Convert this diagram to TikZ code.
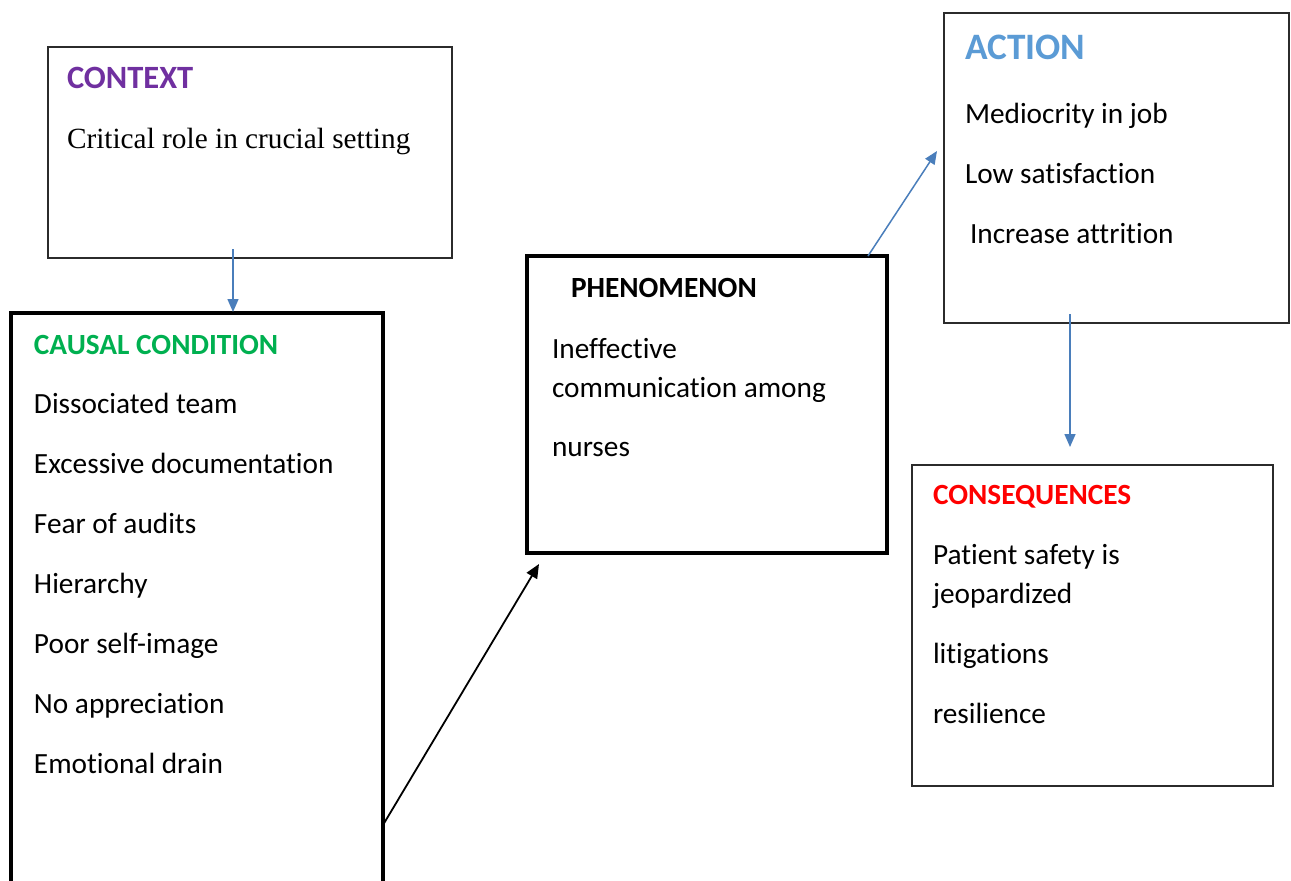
\documentclass[tikz,border=0pt]{standalone}
\usepackage{fontspec}
\setmainfont{Carlito}[Ligatures=NoCommon]
\newfontfamily\timesf{Liberation Serif}
\usetikzlibrary{arrows.meta,calc}
\definecolor{ctxpurple}{HTML}{7030A0}
\definecolor{causgreen}{HTML}{00B050}
\definecolor{actblue}{HTML}{5B9BD5}
\definecolor{arrblue}{HTML}{4A7EBB}
\definecolor{consred}{HTML}{FF0000}
\definecolor{thinbox}{HTML}{2B2B2B}
\tikzset{
  thinframe/.style={draw=thinbox, line width=1.3pt, inner sep=0pt, outer sep=0pt, anchor=north west},
  thickframe/.style={draw=black, line width=4.5pt, inner sep=0pt, outer sep=0pt, anchor=north west},
  txt/.style={anchor=base west, inner sep=0pt, outer sep=0pt, font=\fontsize{29.3}{33}\selectfont},
  hdr/.style={anchor=base west, inner sep=0pt, outer sep=0pt, font=\fontsize{29.3}{33}\selectfont\bfseries},
  bluearrow/.style={draw=arrblue, line width=1.5pt, -{Triangle[length=13pt,width=11pt]}},
  blackarrow/.style={draw=black, line width=1.8pt, -{Triangle[length=14pt,width=12pt]}}
}
\begin{document}
\begin{tikzpicture}[x=1pt,y=-1pt]
\useasboundingbox (0,0) rectangle (1291,881);
\clip (0,0) rectangle (1291,881);
% boxes
\node[thinframe, minimum width=404pt, minimum height=211pt] (context) at (48,47) {};
\node[thickframe, minimum width=372pt, minimum height=700pt] (causal) at (11,313) {};
\node[thickframe, minimum width=360pt, minimum height=297pt] (phen) at (527,256) {};
\node[thinframe, minimum width=345pt, minimum height=310pt] (action) at (944,13) {};
\node[thinframe, minimum width=361pt, minimum height=321pt] (conseq) at (912,465) {};
% context text
\node[hdr, font=\fontsize{32.5}{36}\selectfont\bfseries, text=ctxpurple] (ctxh) at (67,88) {CONTEXT};
\node[txt, font=\fontsize{29.3}{33}\timesf] (ctx1) at (67,148) {Critical role in crucial setting};
% causal text
\node[hdr, text=causgreen] (cauh) at (34,354) {CAUSAL CONDITION};
\node[txt] (cau1) at (34,413) {Dissociated team};
\node[txt] (cau2) at (34,473) {Excessive documentation};
\node[txt] (cau3) at (34,533) {Fear of audits};
\node[txt] (cau4) at (34,593) {Hierarchy};
\node[txt] (cau5) at (34,653) {Poor self-image};
\node[txt] (cau6) at (34,713) {No appreciation};
\node[txt] (cau7) at (34,773) {Emotional drain};
% phenomenon text
\node[hdr] (phh) at (571,297) {PHENOMENON};
\node[txt] (ph1) at (552,358) {Ineffective};
\node[txt] (ph2) at (552,397) {communication among};
\node[txt] (ph3) at (552,456) {nurses};
% action text
\node[hdr, font=\fontsize{37.3}{40}\selectfont\bfseries, text=actblue] (acth) at (965,59) {ACTION};
\node[txt] (act1) at (965,123) {Mediocrity in job};
\node[txt] (act2) at (965,183) {Low satisfaction};
\node[txt] (act3) at (970,243) {Increase attrition};
% consequences text
\node[hdr, text=consred] (conh) at (933,504) {CONSEQUENCES};
\node[txt] (con1) at (933,564) {Patient safety is};
\node[txt] (con2) at (933,603) {jeopardized};
\node[txt] (con3) at (933,663) {litigations};
\node[txt] (con4) at (933,723) {resilience};
% connectors
\draw[bluearrow] ([xshift=-17pt,yshift=9pt]context.south) -- ([xshift=36pt,yshift=1pt]causal.north);
\draw[blackarrow] ([yshift=-512pt]causal.north east) -- ([xshift=12pt,yshift=-11pt]phen.south west);
\draw[bluearrow] ([xshift=-19pt]phen.north east) -- ([xshift=-7pt,yshift=17pt]action.west);
\draw[bluearrow] ([xshift=-46.5pt,yshift=9pt]action.south) -- ([xshift=-22.5pt,yshift=18pt]conseq.north);
\end{tikzpicture}
\end{document}
